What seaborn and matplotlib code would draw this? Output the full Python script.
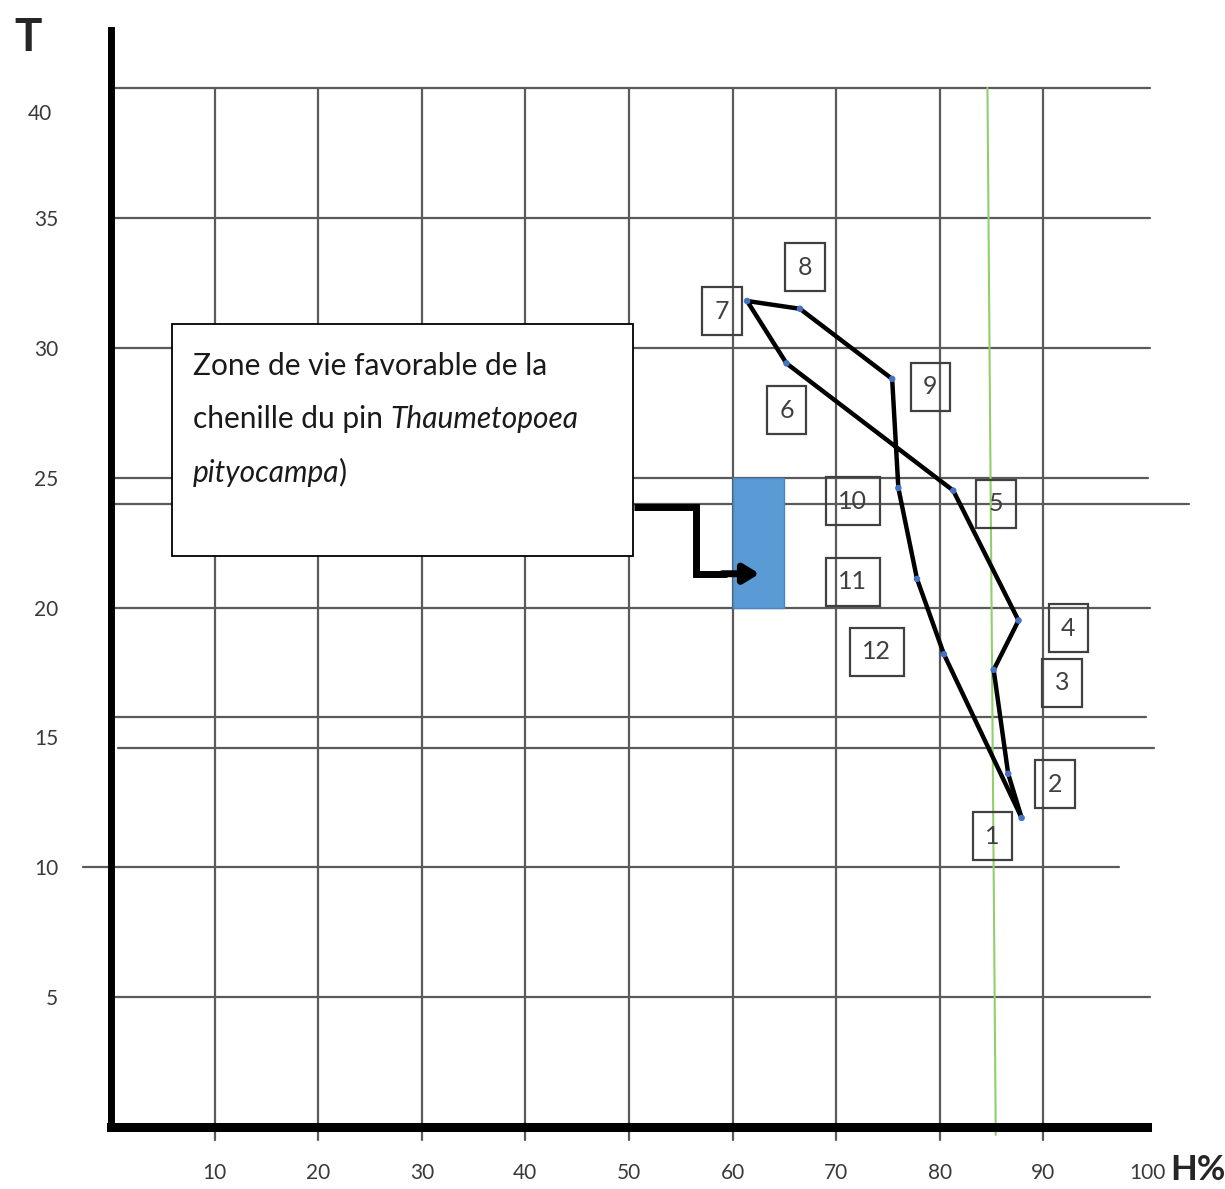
import numpy as np
import pandas as pd
import seaborn as sns
import matplotlib.pyplot as plt
from matplotlib.patches import Rectangle
from matplotlib.transforms import ScaledTranslation

# monthly climate points (humidity %, temperature)
months = [1, 2, 3, 4, 5, 6, 7, 8, 9, 10, 11, 12]
humidity = [87.9, 86.6, 85.2, 87.6, 81.3, 65.2, 61.4, 66.5, 75.4, 76.0, 77.8, 80.4]
temperature = [11.9, 13.6, 17.6, 19.5, 24.5, 29.4, 31.8, 31.5, 28.8, 24.6, 21.1, 18.2]

# favourable zone of the pine processionary caterpillar
zone_h = [60, 65]
zone_t = [20, 25]

# axis ticks
x_ticks = [10, 20, 30, 40, 50, 60, 70, 80, 90, 100]
y_ticks = [5, 10, 15, 20, 25, 30, 35, 40]

# hand-drawn reference lines of the original figure
v_grid = [10, 20, 30, 40, 50, 60, 70, 80, 90]
h_grid_t = [40, 35, 30, 25, 24.0, 20, 15.8, 14.6, 10, 5]
h_grid_start = [0, 0, 0, 0, 0, 0, 0, 0.7, -2.7, 0]
h_grid_end = [100.3, 100.3, 100.3, 100.1, 104.1, 100.3, 99.9, 100.7, 97.3, 100.3]

# where the month number boxes sit
label_h = [85.1, 91.1, 91.8, 92.4, 85.4, 65.2, 59.0, 67.0, 79.1, 71.6, 71.6, 73.9]
label_t = [11.2, 13.2, 17.1, 19.2, 24.0, 27.6, 31.4, 33.1, 28.5, 24.1, 21.0, 18.3]

df = pd.DataFrame({"month": months, "H": humidity, "T": temperature})
loop = pd.concat([df, df.iloc[:1]], ignore_index=True)

sns.set_style("white")
plt.rcParams["font.family"] = ["Lato", "DejaVu Sans"]

fig = plt.figure(figsize=(12.25, 11.89), dpi=100)
ax = fig.add_axes([111 / 1225, 62 / 1189, 1036 / 1225, 1097 / 1189])
ax.set_xlim(0, 100)
ax.set_ylim(0, 1097 / 25.975)

grid_kw = dict(color="#5a5a5a", lw=1.6, clip_on=False, zorder=1)
for x in v_grid:
    ax.plot([x, x], [-0.5, 40], **grid_kw)
for t, a, b in zip(h_grid_t, h_grid_start, h_grid_end):
    ax.plot([a, b], [t, t], **grid_kw)

# green reference line
ax.plot([84.6, 85.4], [40, -0.3], color="#92cf6c", lw=1.5, clip_on=False, zorder=1)

# favourable zone
ax.add_patch(Rectangle((zone_h[0], zone_t[0]), zone_h[1] - zone_h[0], zone_t[1] - zone_t[0],
                       facecolor="#5b9bd5", edgecolor="#4a86c0", lw=1, zorder=2))

# monthly loop
sns.lineplot(data=loop, x="H", y="T", sort=False, estimator=None,
             color="black", lw=3.2, ax=ax, zorder=3)
sns.scatterplot(data=df, x="H", y="T", color="#4472c4", s=22, edgecolor="none",
                ax=ax, zorder=4)

for m, h, t in zip(months, label_h, label_t):
    ax.text(h, t, str(m), ha="center", va="center", fontsize=18, color="#404040", zorder=5,
            bbox=dict(boxstyle="square,pad=0.5", fc="none", ec="#404040", lw=1.6))

# annotation box
ax.add_patch(Rectangle((5.9, 22.0), 44.5, 8.9, facecolor="white", edgecolor="black",
                       lw=1.3, zorder=6))
txt_kw = dict(fontsize=21.5, color="#1a1a1a", zorder=7)
ax.text(7.9, 28.95, "Zone de vie favorable de la", va="baseline", **txt_kw)
t2 = ax.text(7.9, 26.9, "chenille du pin ", va="baseline", **txt_kw)
ax.annotate("Thaumetopoea", xy=(1, 0), xycoords=t2, va="bottom", style="italic", **txt_kw)
t3 = ax.text(7.9, 24.85, "pityocampa", va="baseline", style="italic", **txt_kw)
ax.annotate(")", xy=(1, 0), xycoords=t3, va="bottom", **txt_kw)

# elbow arrow to the zone
ax.plot([50.5, 56.5, 56.5, 59.5], [23.85, 23.85, 21.3, 21.3], color="black", lw=5,
        solid_joinstyle="miter", solid_capstyle="butt", zorder=8)
ax.annotate("", xy=(62.6, 21.3), xytext=(59.0, 21.3), zorder=8,
            arrowprops=dict(arrowstyle="-|>,head_length=0.9,head_width=0.55",
                            lw=5, color="black", shrinkA=0, shrinkB=0))

# axes
sns.despine(ax=ax, top=True, right=True)
ax.spines["left"].set_linewidth(5)
ax.spines["bottom"].set_linewidth(6.5)
ax.spines["left"].set_color("black")
ax.spines["bottom"].set_color("black")
ax.spines["left"].set_zorder(9)
ax.spines["bottom"].set_zorder(9)

ax.set_xticks(x_ticks)
ax.set_yticks(y_ticks)
ax.tick_params(axis="both", length=0, labelsize=15, labelcolor="#3a3a3a")
ax.tick_params(axis="x", pad=26)
ax.tick_params(axis="y", pad=38)
ax.set_xlabel("")
ax.set_ylabel("")

# the "40" label sits a bit below its line in the original
lab40 = ax.get_yticklabels()[-1]
lab40.set_transform(lab40.get_transform() + ScaledTranslation(-0.06, -0.24, fig.dpi_scale_trans))

fig.text(28 / 1225, 1 - 38 / 1189, "T", fontsize=33, fontweight="bold", ha="center", va="center")
fig.text(1198 / 1225, 1 - 1170 / 1189, "H%", fontsize=25, fontweight="bold", ha="center", va="center")

fig.savefig("out.png", dpi=100)
